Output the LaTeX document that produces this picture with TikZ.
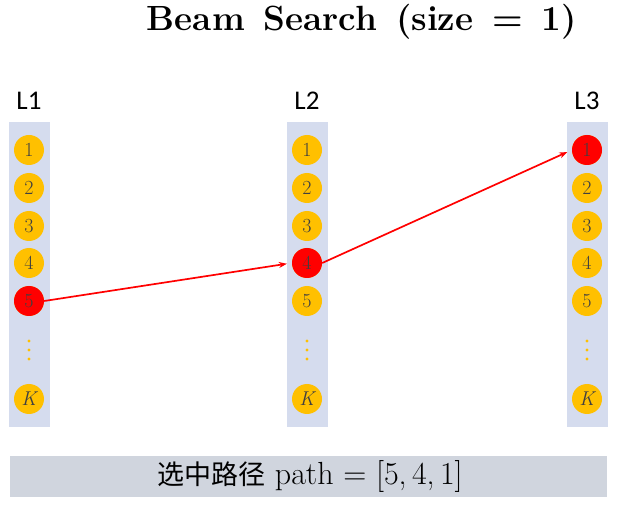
\documentclass[tikz,border=0pt]{standalone}
\usepackage{fontspec}
\usetikzlibrary{arrows.meta}
\newfontfamily\cjk{Noto Sans CJK SC}
\newfontfamily\lab{Carlito}
\definecolor{barblue}{HTML}{D5DCEE}
\definecolor{bargrey}{HTML}{D0D5DE}
\definecolor{gold}{HTML}{FFC000}
\definecolor{numgrey}{HTML}{404040}
\begin{document}
\begin{tikzpicture}[x=1pt,y=-1pt,
  colbar/.style={fill=barblue,draw=none},
  tok/.style={circle,fill=gold,draw=none,minimum size=30pt,inner sep=0pt,font=\fontsize{20}{20}\selectfont,text=numgrey},
  seltok/.style={tok,fill=red},
  collab/.style={font=\lab\fontsize{27}{27}\selectfont},
  vdots/.style={circle,fill=gold,inner sep=0pt,minimum size=3.4pt},
  link/.style={red,line width=1.7pt,-{Stealth[length=8pt,width=6pt]},shorten >=5pt}]
\useasboundingbox (0,0) rectangle (630,505);
\node[font=\bfseries\fontsize{35}{35}\selectfont] (title) at (362,22) {Beam\, Search\, (size\, =\, 1)};
\foreach \c/\x in {1/29,2/307,3/587}{
  \fill[colbar] (\x-20.5,122) rectangle (\x+20.5,427);
  \node[collab] (L\c) at (\x,101) {L\c};
  \foreach \i/\y in {1/150,2/188,3/226,4/263,5/301}{
    \node[tok] (n\c\i) at (\x,\y) {\i};
  }
  \node[vdots] (d\c a) at (\x,341) {};
  \node[vdots] (d\c b) at (\x,350) {};
  \node[vdots] (d\c c) at (\x,359) {};
  \node[tok] (k\c) at (\x,399) {\itshape K};
}
\node[seltok] at (n15) {5};
\node[seltok] (s2) at (n24) {4};
\node[seltok] (s3) at (n31) {1};
\draw[link] (n15.east) -- (n24.west);
\draw[link] (n24.east) -- (n31.west);
\fill[bargrey] (10,456) rectangle (607,497);
\node[font=\fontsize{32}{32}\selectfont] (path) at (310,476) {{\cjk\fontsize{27}{27}\selectfont 选中路径} path = [5,\,4,\,1]};
\end{tikzpicture}
\end{document}
